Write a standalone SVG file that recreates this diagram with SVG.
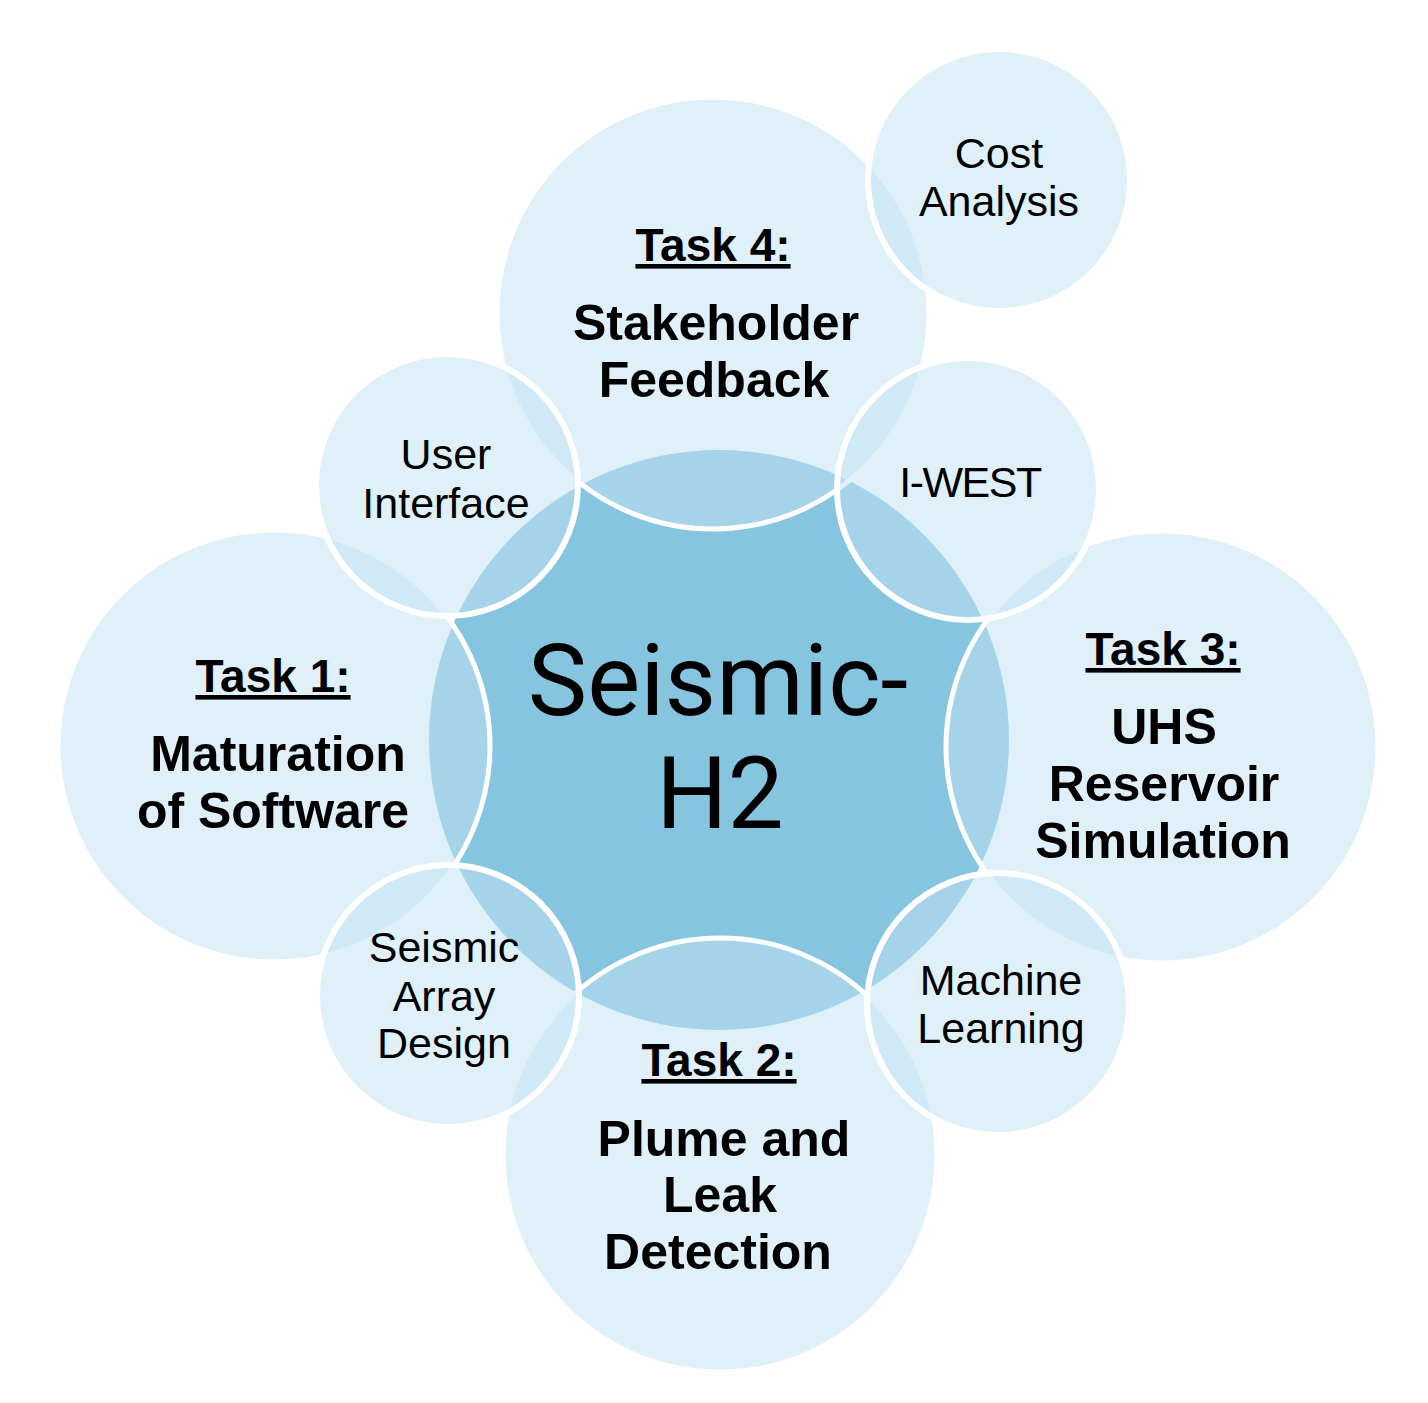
<svg xmlns="http://www.w3.org/2000/svg" width="1428" height="1403" viewBox="0 0 1428 1403">
<style>
.bg{fill:#ffffff}
.core{fill:#86C5E0}
.bub{fill:#C2E2F3;fill-opacity:0.52;stroke:#ffffff;stroke-width:6}
.big{fill:#C2E2F3;fill-opacity:0.52;stroke:#ffffff;stroke-width:5}
.t{font-family:"Liberation Sans",Arial,sans-serif;fill:#000000;text-anchor:middle}
.hd{font-weight:bold;font-size:46px;text-decoration:underline}
.bd{font-weight:bold;font-size:50px}
.sm{font-size:43px}
.ctr{font-family:Roboto,"Liberation Sans",sans-serif;font-size:100px;fill:#000000;text-anchor:middle}
</style>
<rect class="bg" x="0" y="0" width="1428" height="1403"/>
<g id="center">
<circle class="core" cx="719" cy="740" r="290"/>
<text class="ctr" x="718" y="715">Seismic-</text>
<text class="ctr" x="720" y="828">H2</text>
</g>
<g id="connectors"></g>
<g id="task4">
<circle class="big" cx="713" cy="313" r="216"/>
<text class="t hd" x="713" y="261">Task 4:</text>
<text class="t bd" x="716" y="340">Stakeholder</text>
<text class="t bd" x="714" y="397">Feedback</text>
</g>
<g id="task1">
<circle class="big" cx="274" cy="746" r="216"/>
<text class="t hd" x="273" y="692">Task 1:</text>
<text class="t bd" x="278" y="771">Maturation</text>
<text class="t bd" x="273" y="828">of Software</text>
</g>
<g id="task3">
<circle class="big" cx="1162" cy="747" r="216"/>
<text class="t hd" x="1163" y="665">Task 3:</text>
<text class="t bd" x="1164" y="744">UHS</text>
<text class="t bd" x="1164" y="801">Reservoir</text>
<text class="t bd" x="1163" y="858">Simulation</text>
</g>
<g id="task2">
<circle class="big" cx="720" cy="1155" r="217"/>
<text class="t hd" x="719" y="1076">Task 2:</text>
<text class="t bd" x="724" y="1156">Plume and</text>
<text class="t bd" x="720" y="1212">Leak</text>
<text class="t bd" x="718" y="1269">Detection</text>
</g>
<g id="cost">
<circle class="bub" cx="999" cy="180" r="131"/>
<text class="t sm" x="999" y="168">Cost</text>
<text class="t sm" x="999" y="216">Analysis</text>
</g>
<g id="ui">
<circle class="bub" cx="447" cy="485" r="131"/>
<text class="t sm" x="446" y="469">User</text>
<text class="t sm" x="446" y="518">Interface</text>
</g>
<g id="iwest">
<circle class="bub" cx="968" cy="489" r="131"/>
<text class="t sm" x="970" y="497" letter-spacing="-1.5">I-WEST</text>
</g>
<g id="array">
<circle class="bub" cx="448" cy="996" r="131"/>
<text class="t sm" x="444" y="962">Seismic</text>
<text class="t sm" x="444" y="1011">Array</text>
<text class="t sm" x="444" y="1058">Design</text>
</g>
<g id="ml">
<circle class="bub" cx="998" cy="1004" r="131"/>
<text class="t sm" x="1001" y="995">Machine</text>
<text class="t sm" x="1001" y="1043">Learning</text>
</g>
</svg>
